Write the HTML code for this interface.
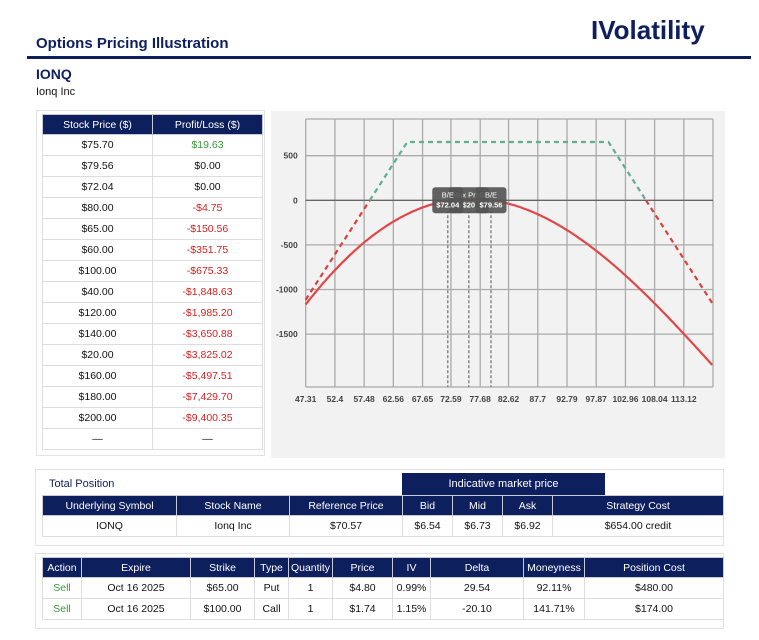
<!DOCTYPE html>
<html><head><meta charset="utf-8">
<style>
*{box-sizing:border-box;margin:0;padding:0}
body{width:759px;height:640px;background:#fff;font-family:"Liberation Sans",Arial,sans-serif;position:relative;overflow:hidden;color:#111}
.abs{position:absolute}
table{border-collapse:collapse;font-size:10.5px;table-layout:fixed}
th{background:#0e1f5e;color:#fff;font-weight:normal;border:1px solid #c8cbd6;height:20px;white-space:nowrap;overflow:hidden}
td{border:1px solid #ddd;text-align:center;height:21px;white-space:nowrap}
.g{color:#3a9a3a}.r{color:#d62020}
</style></head><body>
<div class="abs" style="left:36px;top:35px;font-size:15px;font-weight:bold;color:#0e1f5e">Options Pricing Illustration</div>
<div class="abs" style="left:591px;top:15px;font-size:26px;font-weight:bold;color:#0e1f5e">IVolatility</div>
<div class="abs" style="left:27px;top:56px;width:724px;height:3px;background:#0e1f5e"></div>
<div class="abs" style="left:36px;top:66px;font-size:14px;font-weight:bold;color:#0e1f5e">IONQ</div>
<div class="abs" style="left:36px;top:86px;font-size:11px">Ionq Inc</div>

<div class="abs" style="left:36px;top:110px;width:229px;height:346px;border:1px solid #e2e2e2"></div>
<table class="abs" style="left:42px;top:114px;width:221px">
<tr><th style="width:110px">Stock Price ($)</th><th>Profit/Loss ($)</th></tr>
<tr><td>$75.70</td><td class="g">$19.63</td></tr>
<tr><td>$79.56</td><td>$0.00</td></tr>
<tr><td>$72.04</td><td>$0.00</td></tr>
<tr><td>$80.00</td><td class="r">-$4.75</td></tr>
<tr><td>$65.00</td><td class="r">-$150.56</td></tr>
<tr><td>$60.00</td><td class="r">-$351.75</td></tr>
<tr><td>$100.00</td><td class="r">-$675.33</td></tr>
<tr><td>$40.00</td><td class="r">-$1,848.63</td></tr>
<tr><td>$120.00</td><td class="r">-$1,985.20</td></tr>
<tr><td>$140.00</td><td class="r">-$3,650.88</td></tr>
<tr><td>$20.00</td><td class="r">-$3,825.02</td></tr>
<tr><td>$160.00</td><td class="r">-$5,497.51</td></tr>
<tr><td>$180.00</td><td class="r">-$7,429.70</td></tr>
<tr><td>$200.00</td><td class="r">-$9,400.35</td></tr>
<tr><td>—</td><td>—</td></tr>
</table>

<svg class="abs" style="left:271px;top:111px" width="454" height="347" id="chart"></svg>

<div class="abs" style="left:35px;top:469px;width:689px;height:77px;border:1px solid #e2e2e2"></div>
<div class="abs" style="left:49px;top:478px;font-size:11px;color:#0e1f5e">Total Position</div>
<div class="abs" style="left:402px;top:473px;width:203px;height:22px;background:#0e1f5e;color:#fff;font-size:11px;text-align:center;line-height:22px">Indicative market price</div>
<table class="abs" style="left:42px;top:495px;width:681px">
<tr><th style="width:134px">Underlying Symbol</th><th style="width:113px">Stock Name</th><th style="width:113px">Reference Price</th><th style="width:50px">Bid</th><th style="width:50px">Mid</th><th style="width:50px">Ask</th><th style="width:171px">Strategy Cost</th></tr>
<tr><td>IONQ</td><td>Ionq Inc</td><td>$70.57</td><td>$6.54</td><td>$6.73</td><td>$6.92</td><td>$654.00 credit</td></tr>
</table>

<div class="abs" style="left:35px;top:553px;width:689px;height:76px;border:1px solid #e2e2e2"></div>
<table class="abs" style="left:42px;top:557px;width:681px">
<tr><th style="width:39px">Action</th><th style="width:109px">Expire</th><th style="width:64px">Strike</th><th style="width:34px">Type</th><th style="width:44px">Quantity</th><th style="width:60px">Price</th><th style="width:38px">IV</th><th style="width:93px">Delta</th><th style="width:61px">Moneyness</th><th style="width:139px">Position Cost</th></tr>
<tr><td class="g">Sell</td><td>Oct 16 2025</td><td>$65.00</td><td>Put</td><td>1</td><td>$4.80</td><td>0.99%</td><td>29.54</td><td>92.11%</td><td>$480.00</td></tr>
<tr><td class="g">Sell</td><td>Oct 16 2025</td><td>$100.00</td><td>Call</td><td>1</td><td>$1.74</td><td>1.15%</td><td>-20.10</td><td>141.71%</td><td>$174.00</td></tr>
</table>

<script>
const xTicks=[47.31,52.4,57.48,62.56,67.65,72.59,77.68,82.62,87.7,92.79,97.87,102.96,108.04,113.12];
const yTicks=[500,0,-500,-1000,-1500];
const pricePoints=[40,60,65,72.04,75.7,79.56,80,100,120];
const plPoints=[-1848.63,-351.75,-150.56,0,19.63,0,-4.75,-675.33,-1985.2];
const strikes=[65,100];
const credit=654;
const breakevens=[72.04,79.56];
const maxProfitPrice=75.7;
const maxProfitLabel="$20";

const svg=document.getElementById('chart');
const NS='http://www.w3.org/2000/svg';
const ox=271,oy=111;
const L=305.7-ox,R=713-ox,T=119-oy,B=387-oy;
const xMin=47.31,xMax=118.2;
const sx=v=>L+(v-xMin)*(R-L)/(xMax-xMin);
const sy=v=>(200.3-oy)-v*44.6/500;
function el(tag,attrs,parent){const e=document.createElementNS(NS,tag);for(const k in attrs)e.setAttribute(k,attrs[k]);(parent||svg).appendChild(e);return e;}
el('rect',{x:0,y:0,width:454,height:347,fill:'#f2f2f2'});
for(const t of xTicks){const l=el('line',{x1:sx(t),x2:sx(t),y1:T,y2:B,stroke:'#aaa','stroke-width':1.3});


const tx=el('text',{x:sx(t),y:B+15,'font-size':8.5,'font-weight':'bold','text-anchor':'middle',fill:'#444'});tx.textContent=t;

}
el('line',{x1:R,x2:R,y1:T,y2:B,stroke:'#aaa','stroke-width':1.3});
for(const y of [T,B]) el('line',{x1:L,x2:R,y1:y,y2:y,stroke:'#aaa','stroke-width':1.3});
for(const t of yTicks){const l=el('line',{x1:L,x2:R,y1:sy(t),y2:sy(t),stroke:t===0?'#666':'#aaa','stroke-width':1.3});


const tx=el('text',{x:L-8,y:sy(t)+3,'font-size':8.5,'font-weight':'bold','text-anchor':'end',fill:'#444'});tx.textContent=t;

}
function payoff(s){return credit-100*Math.max(0,strikes[0]-s)-100*Math.max(0,s-strikes[1]);}
const be1=strikes[0]-credit/100,be2=strikes[1]+credit/100;
function seg(a,b,col){const all=[a];for(const k of strikes)if(k>a&&k<b)all.push(k);all.push(b);
const p=el('polyline',{points:all.map(s=>sx(s)+','+sy(payoff(s))).join(' '),fill:'none',stroke:col,'stroke-width':2.2,'stroke-dasharray':'5,4'});

}
seg(xMin,be1,'#d9433f');seg(be1,be2,'#5fae8d');seg(be2,xMax,'#d9433f');
// smooth curve: least-squares polynomial (deg 4) fit through table points
function polyfit(xs,ys,deg){const c=76;const n=deg+1;const A=[];for(let i=0;i<n;i++){A.push(new Array(n+1).fill(0));}
for(let k=0;k<xs.length;k++){const u=(xs[k]-c)/20;const p=[];for(let i=0;i<=2*deg;i++)p.push(Math.pow(u,i));
for(let i=0;i<n;i++){for(let j=0;j<n;j++)A[i][j]+=p[i+j];A[i][n]+=ys[k]*p[i];}}
for(let i=0;i<n;i++){let m=i;for(let r=i+1;r<n;r++)if(Math.abs(A[r][i])>Math.abs(A[m][i]))m=r;[A[i],A[m]]=[A[m],A[i]];
for(let r=0;r<n;r++){if(r===i)continue;const f=A[r][i]/A[i][i];for(let j=i;j<=n;j++)A[r][j]-=f*A[i][j];}}
const co=A.map((row,i)=>row[n]/row[i]);return x=>{const u=(x-c)/20;let s=0;for(let i=n-1;i>=0;i--)s=s*u+co[i];return s;};}
const f=polyfit(pricePoints,plPoints,4);
let d='';for(let s=xMin;s<=xMax;s+=0.25){d+=(d?'L':'M')+sx(s).toFixed(1)+','+sy(f(s)).toFixed(1);}
const cur=el('path',{d,fill:'none',stroke:'#e04848','stroke-width':2.2});


const marks=[[breakevens[0],'B/E','$'+breakevens[0].toFixed(2)],[maxProfitPrice,'Max Profit',maxProfitLabel],[breakevens[1],'B/E','$'+breakevens[1].toFixed(2)]];
for(const m of marks){const l=el('line',{x1:sx(m[0]),x2:sx(m[0]),y1:sy(0),y2:B,stroke:'#777','stroke-width':1.3,'stroke-dasharray':'3,2'});

}
for(const m of [marks[1],marks[0],marks[2]]){const g=el('g',{});


const w=m[1]==='B/E'?31:40;el('rect',{x:sx(m[0])-w/2,y:sy(0)-13,width:w,height:26,rx:3,fill:'#555',opacity:0.92},g);
const t1=el('text',{x:sx(m[0]),y:sy(0)-3,'font-size':7.5,'text-anchor':'middle',fill:'#fff'},g);t1.textContent=m[1];
const t2=el('text',{x:sx(m[0]),y:sy(0)+7,'font-size':7.5,'font-weight':'bold','text-anchor':'middle',fill:'#fff'},g);t2.textContent=m[2];}
</script>
</body></html>
